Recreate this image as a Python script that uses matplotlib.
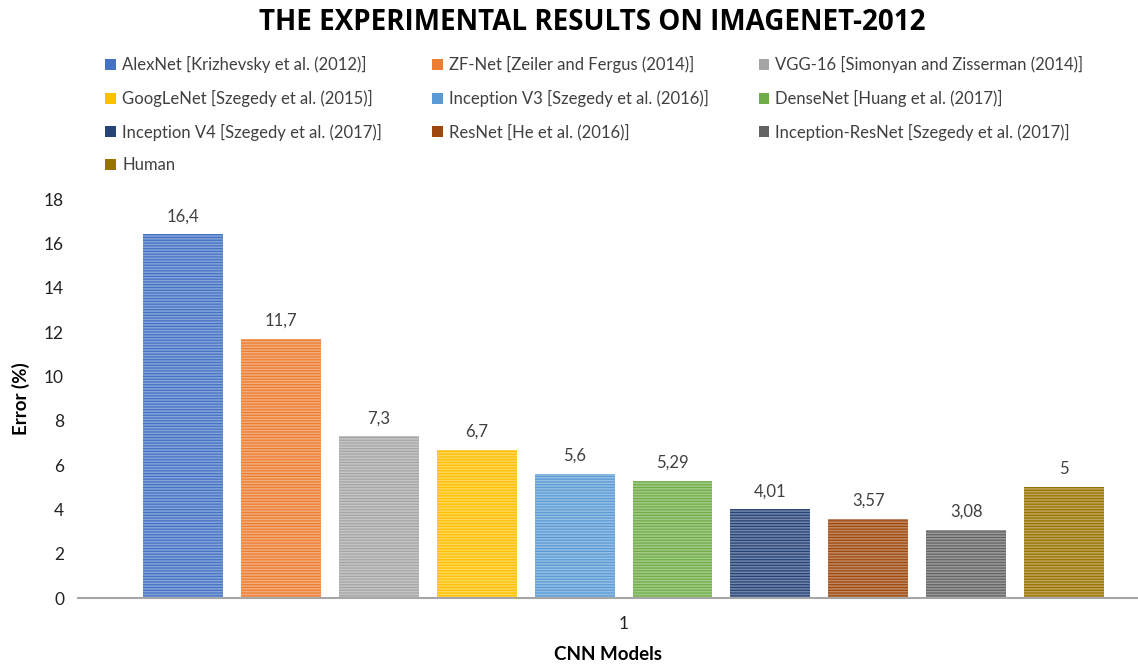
import numpy as np
import matplotlib
matplotlib.use("Agg")
import matplotlib.pyplot as plt
from matplotlib.patches import Patch
from matplotlib.colors import to_rgb

models = ["AlexNet [Krizhevsky et al. (2012)]",
          "ZF-Net [Zeiler and Fergus (2014)]",
          "VGG-16 [Simonyan and Zisserman (2014)]",
          "GoogLeNet [Szegedy et al. (2015)]",
          "Inception V3 [Szegedy et al. (2016)]",
          "DenseNet [Huang et al. (2017)]",
          "Inception V4 [Szegedy et al. (2017)]",
          "ResNet [He et al. (2016)]",
          "Inception-ResNet [Szegedy et al. (2017)]",
          "Human"]
errors = [16.4, 11.7, 7.3, 6.7, 5.6, 5.29, 4.01, 3.57, 3.08, 5]
labels = ["16,4", "11,7", "7,3", "6,7", "5,6", "5,29", "4,01", "3,57", "3,08", "5"]
colors = ["#4472C4", "#ED7D31", "#A5A5A5", "#FFC000", "#5B9BD5",
          "#70AD47", "#264478", "#9E480E", "#636363", "#997300"]

plt.rcParams['font.family'] = ['Lato', 'DejaVu Sans']
plt.rcParams['hatch.linewidth'] = 0.9

def lighten(c, f):
    r, g, b = to_rgb(c)
    return (r + (1 - r) * f, g + (1 - g) * f, b + (1 - b) * f)

fig = plt.figure(figsize=(11.38, 6.67), dpi=100)
ax = fig.add_axes([0.0685, 0.1034, 0.9315, 0.5982])

x = np.arange(len(errors))
for i in range(len(errors)):
    ax.bar(x[i], errors[i], width=0.817, color=lighten(colors[i], 0.35),
           edgecolor=colors[i], linewidth=0, hatch='------')
    ax.text(x[i], errors[i] + 0.45, labels[i], ha='center', va='bottom',
            fontsize=12, color='#404040')

ax.set_xlim(-1.073, 9.755)
ax.set_ylim(0, 18)
ax.set_yticks(range(0, 19, 2))
ax.set_xticks([4.5])
ax.set_xticklabels(["1"])
ax.tick_params(length=0, labelsize=12.5, colors='#222222')
ax.tick_params(axis='x', pad=13)
ax.tick_params(axis='y', pad=10)
for s in ['top', 'right', 'left']:
    ax.spines[s].set_visible(False)
ax.spines['bottom'].set_color('#a6a6a6')
ax.spines['bottom'].set_linewidth(1.5)

ax.set_xlabel("CNN Models", fontsize=13.5, fontweight='bold', labelpad=10)
ax.set_ylabel("Error (%)", fontsize=13.5, fontweight='bold', labelpad=10)

fig.text(0.52, 0.967, "THE EXPERIMENTAL RESULTS ON IMAGENET-2012",
         ha='center', va='center', fontsize=20, fontweight='bold',
         family=['Open Sans', 'DejaVu Sans'])

handles = [Patch(facecolor=colors[i], edgecolor='none') for i in range(len(models))]
order = [0, 3, 6, 9, 1, 4, 7, 2, 5, 8]
fig.legend([handles[i] for i in order], [models[i] for i in order],
           loc='upper left', bbox_to_anchor=(0.0795, 0.938), ncol=3,
           frameon=False, fontsize=12, handlelength=0.65, handleheight=0.65,
           handletextpad=0.35, columnspacing=3.0, labelspacing=1.0,
           labelcolor='#404040')

fig.savefig("out.png", dpi=100)
